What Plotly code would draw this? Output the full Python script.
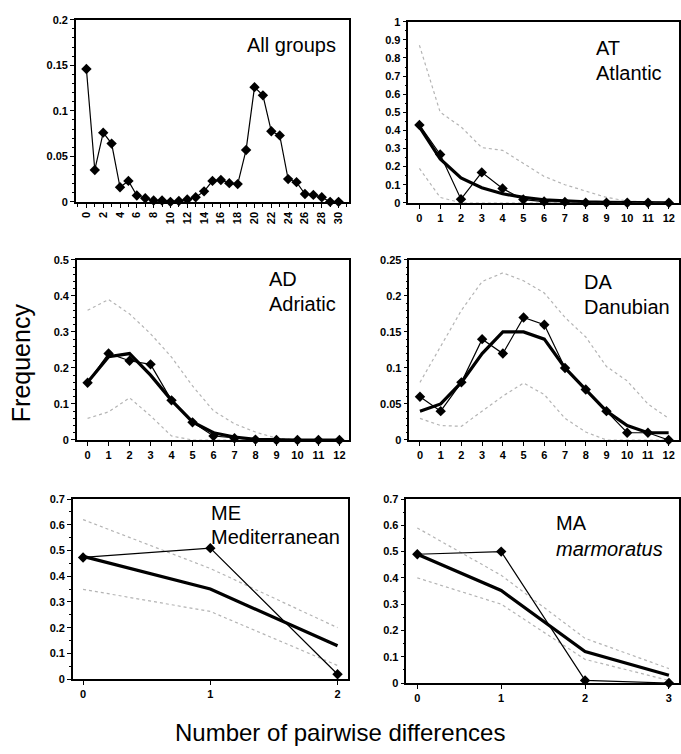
import plotly.graph_objects as go

W, H = 681, 754

# ---------------- data ----------------
all_x = list(range(0, 31))
all_obs = [0.146, 0.035, 0.076, 0.064, 0.016, 0.023, 0.007, 0.004, 0.0014, 0.0014,
           0.0, 0.001, 0.0025, 0.005, 0.0115, 0.023, 0.024, 0.0205, 0.0195, 0.057,
           0.126, 0.117, 0.0775, 0.073, 0.025, 0.0216, 0.0086, 0.0076, 0.005, 0.0, 0.0]

at_x = list(range(0, 13))
at_obs = [0.43, 0.267, 0.02, 0.168, 0.079, 0.018, 0.007, 0.005, 0.001, 0.0, 0.0, 0.0, 0.0]
at_exp = [0.42, 0.242, 0.137, 0.083, 0.05, 0.03, 0.017, 0.01, 0.006, 0.003, 0.002, 0.001, 0.0]
at_up = [0.87, 0.50, 0.42, 0.305, 0.29, 0.22, 0.146, 0.10, 0.065, 0.03, 0.01, 0.004, 0.0]
at_lo = [0.19, 0.03, 0.0, 0.0, 0.0, 0.0, 0.0, 0.0, 0.0, 0.0, 0.0, 0.0, 0.0]

ad_x = list(range(0, 13))
ad_obs = [0.159, 0.24, 0.22, 0.21, 0.11, 0.049, 0.011, 0.005, 0.001, 0.0, 0.0, 0.0, 0.0]
ad_exp = [0.16, 0.231, 0.24, 0.18, 0.11, 0.05, 0.02, 0.008, 0.002, 0.0, 0.0, 0.0, 0.0]
ad_up = [0.36, 0.39, 0.35, 0.295, 0.23, 0.15, 0.081, 0.045, 0.022, 0.005, 0.0, 0.0, 0.0]
ad_lo = [0.06, 0.078, 0.117, 0.067, 0.011, 0.0, 0.0, 0.0, 0.0, 0.0, 0.0, 0.0, 0.0]

da_x = list(range(0, 13))
da_obs = [0.06, 0.04, 0.08, 0.14, 0.12, 0.17, 0.16, 0.10, 0.07, 0.04, 0.01, 0.01, 0.0]
da_exp = [0.04, 0.05, 0.08, 0.12, 0.15, 0.15, 0.14, 0.10, 0.07, 0.04, 0.02, 0.01, 0.01]
da_up = [0.08, 0.13, 0.18, 0.22, 0.232, 0.221, 0.204, 0.17, 0.143, 0.102, 0.082, 0.05, 0.03]
da_lo = [0.03, 0.02, 0.019, 0.04, 0.061, 0.079, 0.063, 0.03, 0.011, 0.0, 0.0, 0.0, 0.0]

me_x = [0, 1, 2]
me_obs = [0.473, 0.509, 0.019]
me_exp = [0.477, 0.35, 0.13]
me_up = [0.62, 0.43, 0.20]
me_lo = [0.349, 0.263, 0.053]

ma_x = [0, 1, 2, 3]
ma_obs = [0.49, 0.50, 0.01, 0.0]
ma_exp = [0.49, 0.352, 0.12, 0.03]
ma_up = [0.59, 0.41, 0.17, 0.055]
ma_lo = [0.40, 0.30, 0.09, 0.01]

# ---------------- layout helpers ----------------
def dom_x(a, b):
    return [a / W, b / W]

def dom_y(top, bot):
    return [1 - bot / H, 1 - top / H]

tickfont = dict(family="Liberation Sans, Arial", size=11, color="black", weight="bold")
panels = [
    # (x dom px, y dom px, xrange, yrange, xdtick, ydtick, yminor, xangle)
    ((76, 350), (14, 199), [-1.25, 31.3], [0, 0.2], 2, 0.05, 0.01, -90),
    ((409, 680), (16, 200), [-0.53, 12.49], [0, 1], 1, 0.1, 0.05, 0),
    ((77, 350), (258, 441), [-0.51, 12.48], [0, 0.5], 1, 0.1, 0.02, 0),
    ((410, 680), (258, 441), [-0.51, 12.5], [0, 0.25], 1, 0.05, 0.01, 0),
    ((73, 349), (501, 684), [-0.08, 2.086], [0, 0.7], 1, 0.1, 0.05, 0),
    ((407, 680), (501, 688), [-0.13, 3.12], [0, 0.7], 1, 0.1, 0.05, 0),
]

fig = go.Figure()
layout = dict(width=W, height=H, margin=dict(l=0, r=0, t=0, b=0),
              paper_bgcolor="white", plot_bgcolor="white", showlegend=False)

for i, (xd, yd, xr, yr, xdt, ydt, ymin, xang) in enumerate(panels, start=1):
    sfx = "" if i == 1 else str(i)
    layout["xaxis" + sfx] = dict(
        domain=dom_x(*xd), range=xr, anchor="y" + sfx, dtick=xdt, tick0=0,
        showgrid=False, zeroline=False, showline=True, linecolor="black", linewidth=1.5,
        mirror=True, ticks="outside", ticklen=4, tickcolor="black", tickwidth=1,
        tickfont=tickfont, tickangle=xang,
        minor=dict(dtick=1, ticks="outside", ticklen=3, tickcolor="black") if i == 1 else None,
    )
    layout["yaxis" + sfx] = dict(
        domain=dom_y(*yd), range=yr, anchor="x" + sfx, dtick=ydt, tick0=0,
        showgrid=False, zeroline=False, showline=True, linecolor="black", linewidth=1.5,
        mirror=True, ticks="outside", ticklen=4, tickcolor="black", tickwidth=1,
        tickfont=tickfont,
        minor=dict(dtick=ymin, ticks="outside", ticklen=2, tickcolor="black"),
    )

fig.update_layout(**layout)

def add_bounds(x, up, lo, ax):
    for ys in (up, lo):
        fig.add_trace(go.Scatter(x=x, y=ys, mode="lines", xaxis="x" + ax, yaxis="y" + ax,
                                 line=dict(color="#b4b4b4", width=1.2, dash="dot"),
                                 cliponaxis=True))

def add_exp(x, y, ax):
    fig.add_trace(go.Scatter(x=x, y=y, mode="lines", xaxis="x" + ax, yaxis="y" + ax,
                             line=dict(color="black", width=3.2), cliponaxis=False))

def add_obs(x, y, ax, msize=8):
    fig.add_trace(go.Scatter(x=x, y=y, mode="lines+markers", xaxis="x" + ax, yaxis="y" + ax,
                             line=dict(color="black", width=1.2),
                             marker=dict(symbol="diamond", size=msize, color="black"),
                             cliponaxis=False))

add_obs(all_x, all_obs, "")

add_bounds(at_x, at_up, at_lo, "2"); add_exp(at_x, at_exp, "2"); add_obs(at_x, at_obs, "2")
add_bounds(ad_x, ad_up, ad_lo, "3"); add_exp(ad_x, ad_exp, "3"); add_obs(ad_x, ad_obs, "3")
add_bounds(da_x, da_up, da_lo, "4"); add_exp(da_x, da_exp, "4"); add_obs(da_x, da_obs, "4")
add_bounds(me_x, me_up, me_lo, "5"); add_exp(me_x, me_exp, "5"); add_obs(me_x, me_obs, "5")
add_bounds(ma_x, ma_up, ma_lo, "6"); add_exp(ma_x, ma_exp, "6"); add_obs(ma_x, ma_obs, "6")

labfont = dict(family="Liberation Sans, Arial", size=20, color="black")
labels = [
    ("All groups", 245, 40),
    ("AT", 595, 43), ("Atlantic", 595, 68),
    ("AD", 267, 277), ("Adriatic", 267, 303),
    ("DA", 583, 280), ("Danubian", 583, 306),
    ("ME", 209, 515), ("Mediterranean", 209, 540),
    ("MA", 555, 525), ("<i>marmoratus</i>", 555, 552),
]
for txt, px, py in labels:
    fig.add_annotation(text=txt, x=px / W, y=1 - py / H, xref="paper", yref="paper",
                       xanchor="left", yanchor="middle", showarrow=False, font=labfont)

titlefont = dict(family="Liberation Sans, Arial", size=25, color="black")
fig.add_annotation(text="Frequency", x=21 / W, y=1 - 362 / H, xref="paper", yref="paper",
                   textangle=-90, showarrow=False, font=titlefont,
                   xanchor="center", yanchor="middle")
fig.add_annotation(text="Number of pairwise differences", x=340 / W, y=1 - 738 / H,
                   xref="paper", yref="paper", showarrow=False, font=dict(
                       family="Liberation Sans, Arial", size=24, color="black"),
                   xanchor="center", yanchor="middle")

fig.write_html("out.html", config={"displayModeBar": False},
               post_script="document.body.style.margin='0px';document.body.style.overflow='hidden';")
